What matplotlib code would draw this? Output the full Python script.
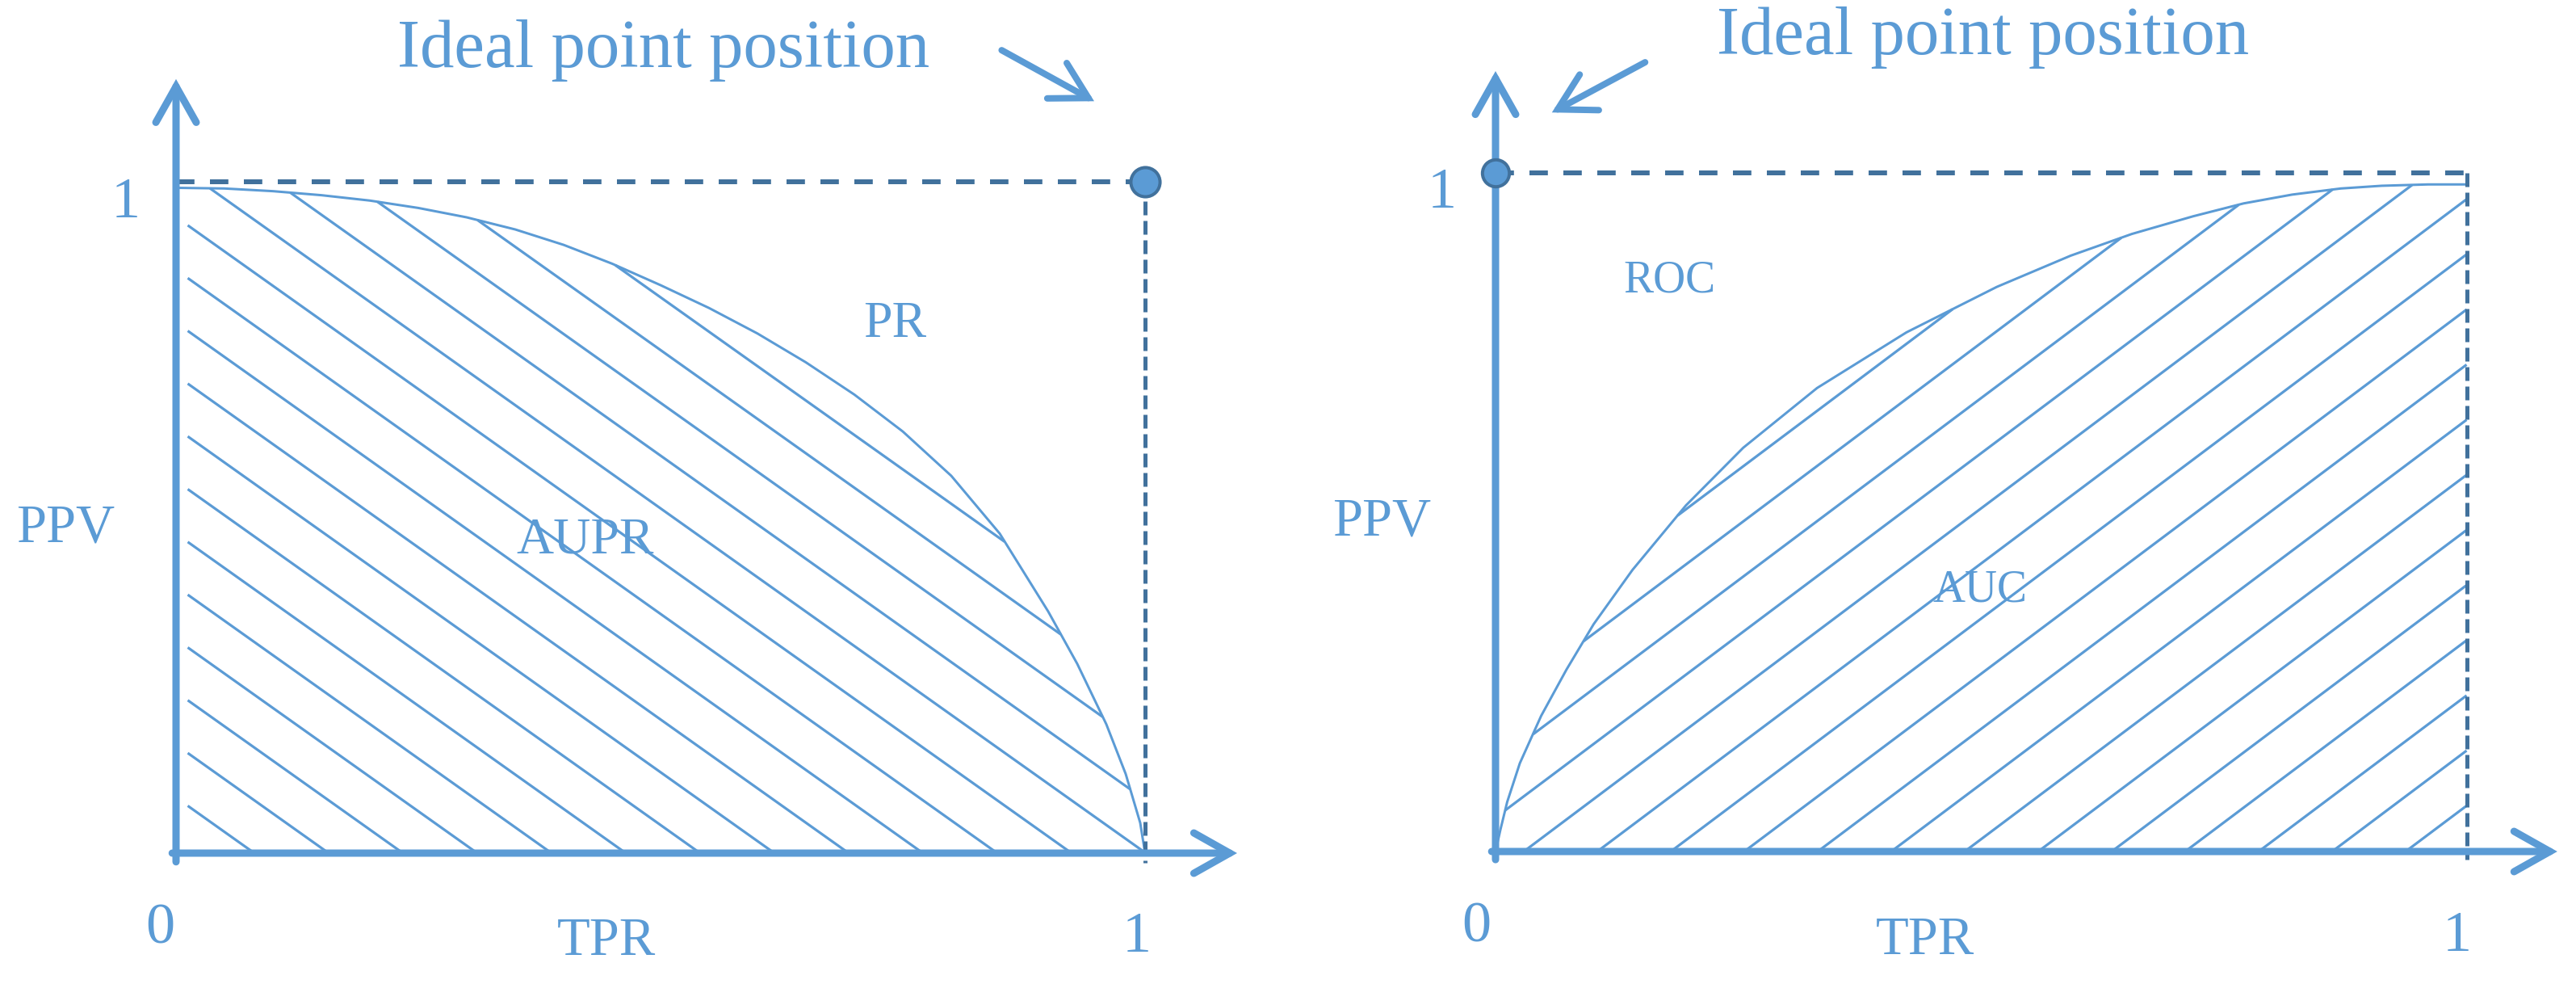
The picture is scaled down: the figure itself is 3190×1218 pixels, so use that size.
import numpy as np
import matplotlib
matplotlib.use("Agg")
import matplotlib.pyplot as plt
from matplotlib.path import Path

# ---------------- data ----------------
pr_tpr = [0.0, 0.05, 0.10, 0.15, 0.20, 0.25, 0.30, 0.35, 0.40, 0.45, 0.50,
          0.55, 0.60, 0.65, 0.70, 0.75, 0.80, 0.85, 0.90, 0.93, 0.96, 0.98,
          0.995, 1.0]
pr_ppv = [0.991, 0.990, 0.986, 0.980, 0.972, 0.961, 0.947, 0.929, 0.906, 0.878,
          0.846, 0.812, 0.774, 0.731, 0.683, 0.628, 0.562, 0.476, 0.360, 0.282,
          0.192, 0.118, 0.045, 0.0]

roc_x = [0.0, 0.005, 0.012, 0.025, 0.047, 0.073, 0.101, 0.141, 0.196, 0.255,
         0.331, 0.423, 0.516, 0.592, 0.655, 0.718, 0.770, 0.820, 0.870, 0.912,
         0.960, 1.0]
roc_y = [0.0, 0.032, 0.073, 0.130, 0.200, 0.268, 0.335, 0.415, 0.510, 0.595,
         0.683, 0.765, 0.832, 0.878, 0.910, 0.936, 0.955, 0.968, 0.977, 0.981,
         0.983, 0.983]

ideal_left = (1.0, 1.0)     # ideal point for the PR plot
ideal_right = (0.0, 1.0)    # ideal point for the ROC plot
tick_labels = ["0", "1"]
x_label = "TPR"
y_label = "PPV"
ideal_text = "Ideal point position"
left_names = ("PR", "AUPR")
right_names = ("ROC", "AUC")

# ---------------- style ----------------
BLUE = "#5B9BD5"
DARK = "#41719C"
FONT = "Liberation Serif"
W, H = 3190, 1218
PX2PT = 72.0 / 100.0

fig = plt.figure(figsize=(W / 100, H / 100), dpi=100)
fig.patch.set_facecolor("white")


def make_panel(x0, x1, origin, unit):
    ax = fig.add_axes([x0 / W, 0, (x1 - x0) / W, 1])
    ox, oy = origin
    ux, uy = unit
    ax.set_xlim((x0 - ox) / ux, (x1 - ox) / ux)
    ax.set_ylim((oy - H) / uy, oy / uy)
    ax.axis("off")
    return ax


def arrow(ax, start, end, lw_px, color=BLUE, z=5):
    ax.annotate("", xy=end, xytext=start, xycoords="data",
                arrowprops=dict(arrowstyle="->,head_length=0.32,head_width=0.18",
                                mutation_scale=100, lw=lw_px * PX2PT, color=color,
                                shrinkA=0, shrinkB=0, capstyle="round",
                                joinstyle="miter"),
                zorder=z)


def hatch(ax, vx, vy, unit, slope, b0, step, kmin, kmax, sign, trim_px):
    ux, uy = unit
    poly = np.column_stack([np.asarray(vx) * ux, np.asarray(vy) * uy])
    path = Path(poly)
    xs = np.arange(-60, ux + 60, 0.5)
    for k in range(kmin, kmax + 1):
        b = b0 + step * k
        ys = sign * slope * (xs - b)
        inside = path.contains_points(np.column_stack([xs, ys]))
        if not inside.any():
            continue
        idx = np.where(inside)[0]
        xa, xb = xs[idx[0]], xs[idx[-1]]
        if xa < 3:
            xa += trim_px
        if xb - xa < 4:
            continue
        ya, yb = sign * slope * (xa - b), sign * slope * (xb - b)
        ax.plot([xa / ux, xb / ux], [ya / uy, yb / uy], color=BLUE,
                lw=3.2 * PX2PT, solid_capstyle="butt", zorder=2)


def txt(ax, x, y, s, size):
    ax.text(x, y, s, ha="center", va="baseline", fontsize=size, color=BLUE,
            family=FONT, zorder=6)


# ================= left panel: PR =================
unitL = (1200, 831)
axL = make_panel(0, 1595, (218, 1056), unitL)

hatch(axL, list(pr_tpr) + [0.0], list(pr_ppv) + [0.0], unitL,
      slope=0.71, b0=97, step=92, kmin=0, kmax=25, sign=-1, trim_px=14)
axL.plot(pr_tpr, pr_ppv, color=BLUE, lw=3.0 * PX2PT, zorder=3,
         solid_joinstyle="round")

# dashed guides to the ideal point
axL.plot([0, ideal_left[0]], [ideal_left[1], ideal_left[1]], color=DARK,
         lw=6 * PX2PT, linestyle=(0, (3.8, 3.2)), zorder=4)
axL.plot([ideal_left[0], ideal_left[0]], [ideal_left[1], -0.014], color=DARK,
         lw=5 * PX2PT, linestyle=(0, (3.4, 1.4)), zorder=4)

# axes with arrows
arrow(axL, (0, -0.013), (0, 1.153), 9)
arrow(axL, (-0.004, 0), (1.095, 0), 9)
axL.plot(*ideal_left, marker="o", ms=26, mfc=BLUE, mec=DARK, mew=4 * PX2PT,
         zorder=7)
arrow(axL, (0.852, 1.196), (0.9475, 1.120), 8)

txt(axL, 0.503, 1.171, ideal_text, 61)
txt(axL, -0.052, 0.947, tick_labels[1], 52)
txt(axL, -0.016, -0.1336, tick_labels[0], 52)
txt(axL, 0.991, -0.1468, tick_labels[1], 52)
txt(axL, -0.114, 0.4645, y_label, 48)
txt(axL, 0.444, -0.1516, x_label, 48)
txt(axL, 0.742, 0.769, left_names[0], 46)
txt(axL, 0.4225, 0.4465, left_names[1], 46)

# ================= right panel: ROC =================
unitR = (1203, 840)
axR = make_panel(1595, 3190, (1852, 1054), unitR)

hatch(axR, list(roc_x) + [1.0], list(roc_y) + [0.0], unitR,
      slope=0.75, b0=35, step=91, kmin=-20, kmax=14, sign=1, trim_px=0)
axR.plot(roc_x, roc_y, color=BLUE, lw=3.0 * PX2PT, zorder=3,
         solid_joinstyle="round")

axR.plot([ideal_right[0], 1.0], [ideal_right[1], ideal_right[1]], color=DARK,
         lw=6 * PX2PT, linestyle=(0, (3.8, 3.2)), zorder=4)
axR.plot([1.0, 1.0], [ideal_right[1], -0.012], color=DARK,
         lw=5 * PX2PT, linestyle=(0, (3.4, 1.4)), zorder=4)

arrow(axR, (0, -0.012), (0, 1.150), 9)
arrow(axR, (-0.004, 0), (1.093, 0), 9)
axR.plot(*ideal_right, marker="o", ms=24, mfc=BLUE, mec=DARK, mew=4 * PX2PT,
         zorder=7)
arrow(axR, (0.154, 1.163), (0.058, 1.089), 8)

txt(axR, 0.502, 1.175, ideal_text, 61)
txt(axR, -0.055, 0.949, tick_labels[1], 52)
txt(axR, -0.020, -0.133, tick_labels[0], 52)
txt(axR, 0.990, -0.146, tick_labels[1], 52)
txt(axR, -0.117, 0.4655, y_label, 48)
txt(axR, 0.442, -0.151, x_label, 48)
txt(axR, 0.179, 0.824, right_names[0], 40)
txt(axR, 0.499, 0.369, right_names[1], 40)

fig.savefig("out.png", dpi=100, facecolor="white")
